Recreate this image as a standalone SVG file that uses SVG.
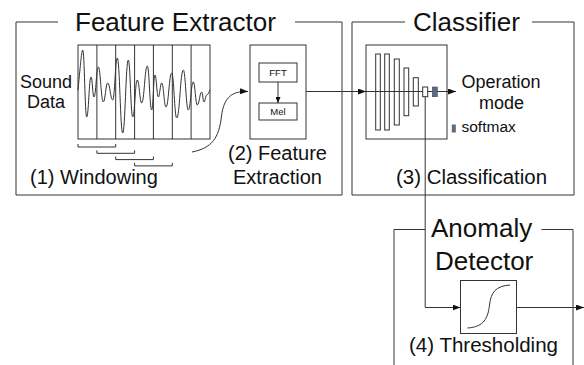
<svg xmlns="http://www.w3.org/2000/svg" width="584" height="365" viewBox="0 0 584 365">
<defs>
<style>
text{font-family:"Liberation Sans",Arial,Helvetica,sans-serif;fill:#111}
.ln{fill:none;stroke:#333;stroke-width:1}
.bx{fill:#fff;stroke:#333;stroke-width:1}
.t26{font-size:26px}
.t20{font-size:20px}
.t18{font-size:18px}
.t16{font-size:15.5px}
.t10{font-size:9.5px}
</style>
<marker id="ah" viewBox="0 0 8 6" markerWidth="8" markerHeight="6" refX="8" refY="3" orient="auto" markerUnits="userSpaceOnUse">
<path d="M0,0 L8,3 L0,6 z" fill="#111"/>
</marker>
<marker id="ahs" viewBox="0 0 6 5" markerWidth="6" markerHeight="5" refX="6" refY="2.5" orient="auto" markerUnits="userSpaceOnUse">
<path d="M0,0 L6,2.5 L0,5 z" fill="#111"/>
</marker>
</defs>
<rect width="584" height="365" fill="#fff"/>

<g id="feature-extractor">
<path class="ln" d="M58,22 H16 V195 H342 V22 H295"/>
<text class="t26" x="75" y="31">Feature Extractor</text>
</g>

<g id="classifier">
<path class="ln" d="M405,22 H352 V195 H574 V22 H532"/>
<text class="t26" x="413" y="31">Classifier</text>
</g>

<g id="anomaly-detector">
<path class="ln" d="M425,229.5 H394 V366"/>
<path class="ln" d="M541.5,229.5 H573 V366"/>
<text class="t26" x="431" y="236.5">Anomaly</text>
<text class="t26" x="435" y="270">Detector</text>
</g>

<g id="sound-data">
<text class="t18" x="20" y="88">Sound</text>
<text class="t18" x="27" y="108">Data</text>
</g>

<g id="windowing">
<rect class="bx" x="78" y="45" width="132" height="94"/>
<path class="ln" d="M96.9,45 V139 M115.7,45 V139 M134.6,45 V139 M153.4,45 V139 M172.3,45 V139 M191.1,45 V139"/>
<path class="ln" d="M78,90 C80,70 81.5,50 82.7,50 C84.5,50 84.9,117 86.7,117 C88.6,117 89.1,77 91,77 C92.4,77 92.6,97 94,97 C95.9,97 96.4,67 98.3,67 C100.5,67 101.1,102 103.3,102 C105.3,102 105.7,83 107.7,83 C109.9,83 110.5,100 112.7,100 C114.8,100 115.2,58 117.3,58 C119.7,58 120.3,133 122.7,133 C125.2,133 125.8,60 128.3,60 C130.3,60 130.7,117 132.7,117 C134.8,117 135.2,80 137.3,80 C139.3,80 139.7,103 141.7,103 C144.2,103 144.8,66 147.3,66 C149.3,66 149.7,110 151.7,110 C153.2,110 153.5,75 155,75 C156.5,75 156.8,97 158.3,97 C159.8,97 160.2,83 161.7,83 C163.6,83 164.1,107 166,107 C168.6,107 169.1,73 171.7,73 C173.9,73 174.5,118 176.7,118 C179.7,118 180.3,70 183.3,70 C185.5,70 186.1,110 188.3,110 C190.5,110 191.1,82 193.3,82 C195.1,82 195.5,105 197.3,105 C199.3,105 199.7,92 201.7,92 C202.7,92 203,102 204,102 C205.2,102 205.5,95 206.7,95 C208,95 209,92 210,90"/>
<path class="ln" d="M78,144 V147 H115.7 V144 M96.9,150.3 V153.3 H134.6 V150.3 M115.7,156.6 V159.6 H153.4 V156.6 M134.6,162.9 V165.9 H172.3 V162.9"/>
<text class="t20" x="30" y="184">(1) Windowing</text>
</g>

<g id="feature-extraction">
<rect class="bx" x="250" y="45" width="56" height="94"/>
<rect class="bx" x="259" y="63" width="38" height="19"/>
<text class="t10" x="278" y="76" text-anchor="middle">FFT</text>
<rect class="bx" x="259" y="103" width="38" height="17"/>
<text class="t10" x="278" y="115" text-anchor="middle">Mel</text>
<text class="t20" x="228" y="160">(2) Feature</text>
<text class="t20" x="233" y="184">Extraction</text>
</g>

<g id="cnn">
<rect class="bx" x="366" y="45" width="81" height="94"/>
<rect class="bx" x="375.7" y="54" width="4.6" height="76"/>
<rect class="bx" x="384.7" y="54" width="4.6" height="76"/>
<rect class="bx" x="394.3" y="59" width="5" height="66"/>
<rect class="bx" x="404" y="68" width="4.7" height="47.7"/>
<rect class="bx" x="413.3" y="77.7" width="5" height="28.3"/>
<rect class="bx" x="422.7" y="87" width="5" height="9.7"/>
<rect x="432.3" y="87" width="5" height="9.7" fill="#5b6b80" stroke="#3d4a5a" stroke-width="0.6"/>
<text class="t18" x="461.5" y="88">Operation</text>
<text class="t18" x="479" y="109">mode</text>
<rect x="451.8" y="124.5" width="4" height="8" fill="#5b6b80"/>
<text class="t16" x="461.5" y="132">softmax</text>
<text class="t20" x="396" y="184" textLength="151" lengthAdjust="spacingAndGlyphs">(3) Classification</text>
</g>

<g id="thresholding">
<rect class="bx" x="460.5" y="280.5" width="56" height="53"/>
<path class="ln" d="M467.5,328 C484,327 488,318 489.5,305 C491,292 496,286 510,285"/>
<text class="t20" x="409" y="352" textLength="149" lengthAdjust="spacingAndGlyphs">(4) Thresholding</text>
</g>

<g id="connectors">
<path class="ln" d="M192,152 C212,148 219,138 221.5,116 C224,97 232,91 248,91.5" marker-end="url(#ah)"/>
<path class="ln" d="M278,82 V103" marker-end="url(#ahs)"/>
<path class="ln" d="M306,91.5 H366" marker-end="url(#ah)"/>
<path class="ln" d="M366,91.5 H422.7 M427.7,91.5 H432.3 M437.3,91.5 H456" marker-end="url(#ah)"/>
<path class="ln" d="M380.3,91.5 H384.7"/>
<path class="ln" d="M425.2,96.7 V307.5 H460.5" marker-end="url(#ah)"/>
<path class="ln" d="M516.5,307.5 H584" marker-end="url(#ah)"/>
</g>
</svg>
